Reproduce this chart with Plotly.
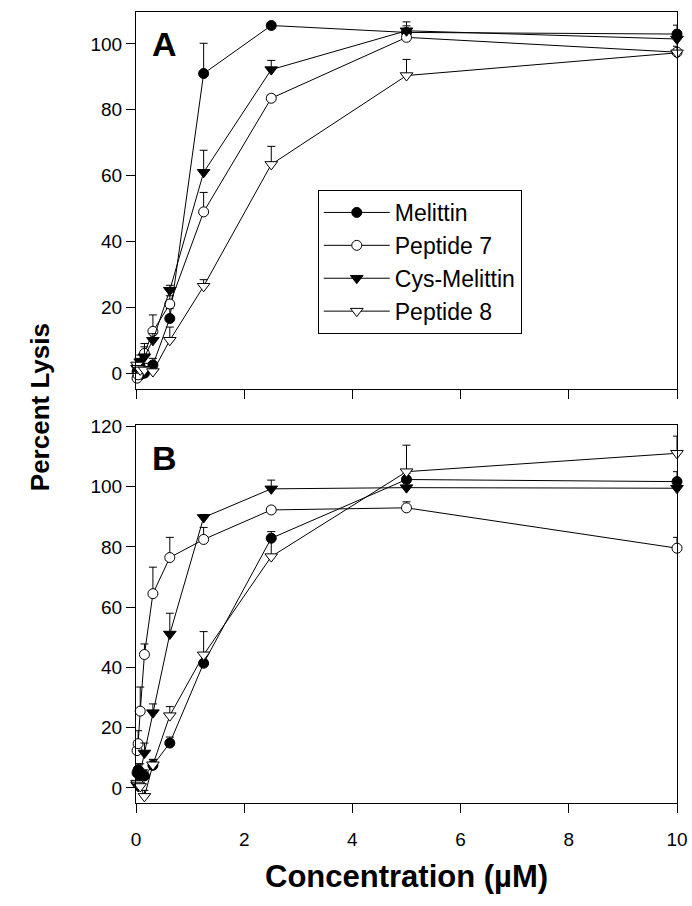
import plotly.graph_objects as go

conc = [0.0195, 0.039, 0.078, 0.156, 0.3125, 0.625, 1.25, 2.5, 5, 10]
names = ["Melittin", "Peptide 7", "Cys-Melittin", "Peptide 8"]

# Panel A values and upper error bars
melittin_a = [0.5, -1.0, -0.5, 0.0, 2.5, 16.6, 91.0, 105.6, 103.5, 103.0]
pep7_a = [-1.5, -0.5, 2.0, 6.0, 12.7, 21.0, 49.0, 83.5, 102.0, 97.5]
cysmel_a = [1.5, 2.0, 3.5, 5.0, 10.0, 25.2, 61.0, 92.2, 104.0, 101.5]
pep8_a = [2.5, 1.5, 1.0, 1.0, 0.5, 10.0, 26.4, 63.4, 90.4, 97.3]
melittin_a_err = [2, 2, 2, 2, 2, 3, 9.2, 0.5, 2, 2.7]
pep7_a_err = [2, 2, 2, 3, 5, 2.5, 5.9, 1, 1, 1]
cysmel_a_err = [2, 2, 2, 3, 2, 1.5, 6.7, 2.8, 2.7, 1.5]
pep8_a_err = [2, 2, 2, 2, 2, 4, 2, 5.5, 4.9, 2]

# Panel B values and upper error bars
melittin_b = [5.0, 6.0, 4.5, 4.0, 7.5, 14.9, 41.4, 82.9, 102.4, 101.7]
pep7_b = [12.4, 14.7, 25.5, 44.3, 64.5, 76.5, 82.5, 92.3, 93.0, 79.6]
cysmel_b = [1.0, 0.5, 5.0, 11.6, 25.0, 51.1, 89.8, 99.3, 99.7, 99.5]
pep8_b = [1.6, 1.0, 0.5, -2.8, 7.7, 24.0, 44.2, 76.8, 105.0, 111.1]
melittin_b_err = [2, 2, 2, 2, 2, 2, 1, 2.2, 2, 3.3]
pep7_b_err = [3, 4.3, 8, 3.5, 8.8, 6.7, 4, 1, 2, 3.6]
cysmel_b_err = [2, 2, 3, 3.3, 2.9, 6.9, 1, 2.9, 2, 2]
pep8_b_err = [2, 2, 2, 2, 1.6, 3, 7.7, 6.6, 8.8, 5.7]

x_ticks = [0, 2, 4, 6, 8, 10]
ya_ticks = [0, 20, 40, 60, 80, 100]
yb_ticks = [0, 20, 40, 60, 80, 100, 120]

styles = [
    dict(symbol="circle", color="black"),
    dict(symbol="circle", color="white"),
    dict(symbol="triangle-down", color="black"),
    dict(symbol="triangle-down", color="white"),
]

fig = go.Figure()

panels = [
    ("x", "y", [melittin_a, pep7_a, cysmel_a, pep8_a],
     [melittin_a_err, pep7_a_err, cysmel_a_err, pep8_a_err], True),
    ("x2", "y2", [melittin_b, pep7_b, cysmel_b, pep8_b],
     [melittin_b_err, pep7_b_err, cysmel_b_err, pep8_b_err], False),
]

for xa, ya, vals, errs, show in panels:
    for name, v, e, st in zip(names, vals, errs, styles):
        fig.add_trace(go.Scatter(
            x=conc, y=v, name=name, mode="lines+markers",
            xaxis=xa, yaxis=ya, showlegend=show, cliponaxis=False,
            line=dict(color="black", width=1),
            marker=dict(symbol=st["symbol"], size=11 if "triangle" in st["symbol"] else 10,
                        color=st["color"], line=dict(color="black", width=1)),
            error_y=dict(type="data", symmetric=False, array=e,
                         arrayminus=[0] * len(e), color="black",
                         thickness=1, width=4),
        ))

font = "Liberation Sans, Arial, sans-serif"
axis_common = dict(showline=True, linecolor="black", linewidth=1, mirror=True,
                   ticks="outside", tickcolor="black", ticklen=9, tickwidth=1,
                   showgrid=False, zeroline=False, automargin=False,
                   tickfont=dict(family=font, size=19, color="black"))

fig.update_layout(
    width=692, height=906,
    margin=dict(l=136, r=15, t=12, b=103, autoexpand=False),
    paper_bgcolor="white", plot_bgcolor="white",
    font=dict(family=font, color="black"),
    xaxis=dict(domain=[0, 1], range=[0, 10], tickvals=x_ticks,
               showticklabels=False, anchor="y", **axis_common),
    yaxis=dict(domain=[0.5234, 1], range=[-4.8, 109.7], tickvals=ya_ticks,
               anchor="x", **axis_common),
    xaxis2=dict(domain=[0, 1], range=[0, 10], tickvals=x_ticks,
                anchor="y2", ticklabelstandoff=10, **axis_common),
    yaxis2=dict(domain=[0, 0.4775], range=[-5, 120.4], tickvals=yb_ticks,
                anchor="x2", **axis_common),
    legend=dict(x=0.336, y=0.775, xanchor="left", yanchor="top",
                bordercolor="black", borderwidth=1, bgcolor="white",
                font=dict(family=font, size=23, color="black"),
                tracegroupgap=0, itemwidth=66),
    annotations=[
        dict(text="<b>A</b>", x=0.25, y=100, xref="x", yref="y", xanchor="left",
             yanchor="middle", showarrow=False,
             font=dict(family=font, size=34, color="black")),
        dict(text="<b>B</b>", x=0.25, y=109.5, xref="x2", yref="y2", xanchor="left",
             yanchor="middle", showarrow=False,
             font=dict(family=font, size=34, color="black")),
        dict(text="<b>Percent Lysis</b>", x=-0.178, y=0.5, xref="paper", yref="paper",
             xanchor="center", yanchor="middle", textangle=-90, showarrow=False,
             font=dict(family=font, size=26, color="black")),
        dict(text="<b>Concentration (µM)</b>", x=0.5, y=-0.093, xref="paper",
             yref="paper", xanchor="center", yanchor="middle", showarrow=False,
             font=dict(family=font, size=31, color="black")),
    ],
)

fig.write_html("out.html")
